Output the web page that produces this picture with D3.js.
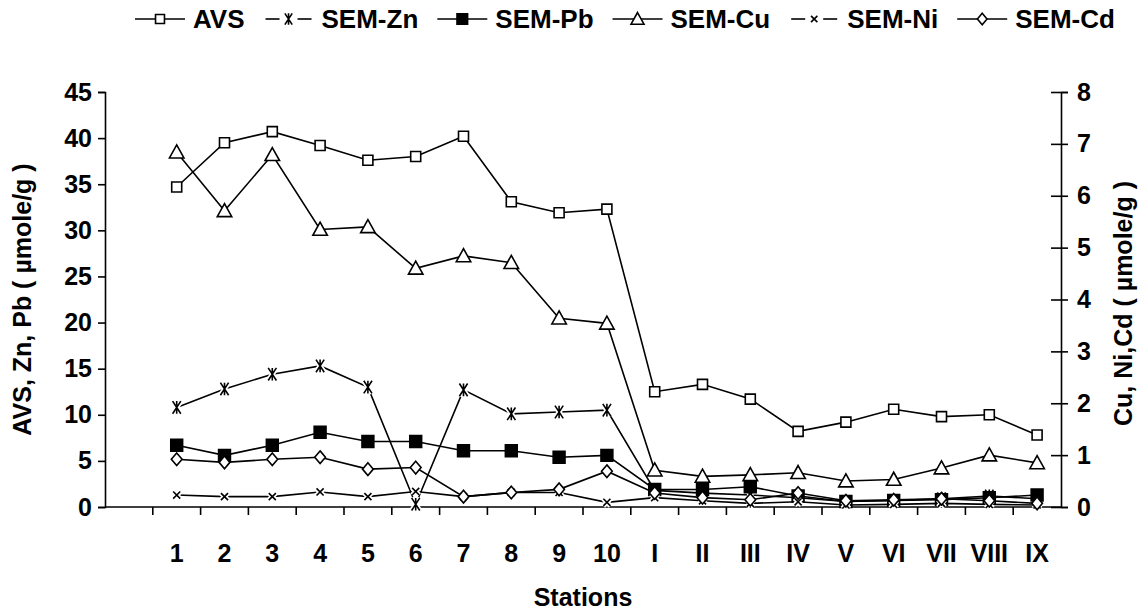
<!DOCTYPE html>
<html>
<head>
<meta charset="utf-8">
<script src="https://cdn.jsdelivr.net/npm/d3@7"></script>
<style>
  body { margin: 0; background: #fff; }
  text { font-family: "Liberation Sans", Arial, sans-serif; font-weight: bold; fill: #000; }
</style>
</head>
<body>
<div id="chart"></div>
<script>
// stations (first band is left empty, as in the original)
var stations = ["1", "2", "3", "4", "5", "6", "7", "8", "9", "10",
                "I", "II", "III", "IV", "V", "VI", "VII", "VIII", "IX"];

// left axis series (µmole/g)
var avs   = [34.7, 39.5, 40.7, 39.2, 37.6, 38.0, 40.2, 33.1, 31.9, 32.3,
             12.5, 13.3, 11.7, 8.2, 9.2, 10.6, 9.8, 10.0, 7.8];
var semZn = [10.8, 12.8, 14.4, 15.3, 13.0, 0.3, 12.7, 10.1, 10.3, 10.5,
             1.8, 1.5, 1.3, 1.0, 0.6, 0.7, 0.9, 1.2, 0.9];
var semPb = [6.7, 5.6, 6.7, 8.1, 7.1, 7.1, 6.1, 6.1, 5.4, 5.6,
             1.9, 1.9, 2.2, 1.2, 0.6, 0.7, 0.8, 1.0, 1.3];

// right axis series (µmole/g)
var semCu = [6.84, 5.71, 6.79, 5.35, 5.40, 4.60, 4.84, 4.71, 3.64, 3.54,
             0.71, 0.59, 0.62, 0.66, 0.50, 0.53, 0.75, 1.00, 0.85];
var semNi = [0.23, 0.20, 0.20, 0.29, 0.20, 0.30, 0.20, 0.28, 0.28, 0.09,
             0.18, 0.12, 0.07, 0.10, 0.04, 0.05, 0.07, 0.05, 0.04];
var semCd = [0.92, 0.86, 0.92, 0.96, 0.73, 0.76, 0.20, 0.28, 0.34, 0.69,
             0.27, 0.18, 0.14, 0.27, 0.12, 0.14, 0.16, 0.12, 0.07];

var leftTicks = [0, 5, 10, 15, 20, 25, 30, 35, 40, 45];
var rightTicks = [0, 1, 2, 3, 4, 5, 6, 7, 8];

var width = 1148, height = 612;
var margin = { top: 92, right: 87, bottom: 105, left: 105 };

var svg = d3.select("#chart").append("svg")
    .attr("width", width)
    .attr("height", height);

var x = d3.scaleBand()
    .domain([""].concat(stations))
    .range([margin.left, width - margin.right])
    .padding(0);
var yL = d3.scaleLinear().domain([0, 45]).range([height - margin.bottom, margin.top]);
var yR = d3.scaleLinear().domain([0, 8]).range([height - margin.bottom, margin.top]);
var cx = d => x(d) + x.bandwidth() / 2;

// marker shapes
var asterisk = {
    draw: function (ctx, size) {
        var r = Math.sqrt(size) / 2;
        ctx.moveTo(0, -r); ctx.lineTo(0, r);
        ctx.moveTo(-0.65 * r, -r); ctx.lineTo(0.65 * r, r);
        ctx.moveTo(0.65 * r, -r); ctx.lineTo(-0.65 * r, r);
    }
};
var cross = {
    draw: function (ctx, size) {
        var r = Math.sqrt(size) / 2;
        ctx.moveTo(-r, -r); ctx.lineTo(r, r);
        ctx.moveTo(r, -r); ctx.lineTo(-r, r);
    }
};
var diamond = {
    draw: function (ctx, size) {
        var r = Math.sqrt(size) / 2;
        ctx.moveTo(0, -r); ctx.lineTo(r * 0.85, 0); ctx.lineTo(0, r); ctx.lineTo(-r * 0.85, 0); ctx.closePath();
    }
};
var triangle = {
    draw: function (ctx, size) {
        var r = Math.sqrt(size) / 2;
        ctx.moveTo(0, -r); ctx.lineTo(r, r * 0.8); ctx.lineTo(-r, r * 0.8); ctx.closePath();
    }
};

var series = [
    { name: "AVS",    values: avs,   y: yL, type: d3.symbolSquare, size: 100, fill: "#fff", open: true },
    { name: "SEM-Zn", values: semZn, y: yL, type: asterisk,        size: 160, fill: "none", open: false },
    { name: "SEM-Pb", values: semPb, y: yL, type: d3.symbolSquare, size: 140, fill: "#000", open: true },
    { name: "SEM-Cu", values: semCu, y: yR, type: triangle,        size: 210, fill: "#fff", open: true },
    { name: "SEM-Ni", values: semNi, y: yR, type: cross,           size: 50,  fill: "none", open: false },
    { name: "SEM-Cd", values: semCd, y: yR, type: diamond,         size: 160, fill: "#fff", open: true }
];

// axes
var axisG = svg.append("g");
axisG.append("g")
    .attr("transform", `translate(${margin.left},0)`)
    .call(d3.axisLeft(yL).tickValues(leftTicks).tickSize(7).tickPadding(6))
    .call(g => g.selectAll(".tick text").style("font-size", "25px"))
    .call(g => g.selectAll("path, line").attr("stroke", "#000").attr("stroke-width", 1.6));

axisG.append("g")
    .attr("transform", `translate(${width - margin.right},0)`)
    .call(d3.axisRight(yR).tickValues(rightTicks).tickSize(7).tickPadding(9))
    .call(g => g.selectAll(".tick text").style("font-size", "25px"))
    .call(g => g.selectAll(".tick line").attr("x1", -10))
    .call(g => g.selectAll("path, line").attr("stroke", "#000").attr("stroke-width", 1.6));

var xAxisG = axisG.append("g")
    .attr("transform", `translate(0,${height - margin.bottom})`);
xAxisG.append("line")
    .attr("x1", margin.left).attr("x2", width - margin.right)
    .attr("stroke", "#000").attr("stroke-width", 1.6);
xAxisG.selectAll("line.tk")
    .data(stations)
    .join("line")
    .attr("class", "tk")
    .attr("x1", d => x(d)).attr("x2", d => x(d))
    .attr("y1", 0).attr("y2", 8)
    .attr("stroke", "#000").attr("stroke-width", 1.6);
xAxisG.selectAll("text")
    .data(stations)
    .join("text")
    .attr("x", d => cx(d))
    .attr("y", 55)
    .attr("text-anchor", "middle")
    .style("font-size", "25px")
    .text(d => d);

// axis titles
var midY = (margin.top + height - margin.bottom) / 2;
svg.append("text")
    .attr("transform", `translate(31,${midY}) rotate(-90)`)
    .attr("text-anchor", "middle")
    .style("font-size", "25px")
    .text("AVS, Zn, Pb ( µmole/g )");
svg.append("text")
    .attr("transform", `translate(1132,${midY + 4}) rotate(-90)`)
    .attr("text-anchor", "middle")
    .style("font-size", "25px")
    .text("Cu, Ni,Cd ( µmole/g )");
svg.append("text")
    .attr("x", (margin.left + width - margin.right) / 2)
    .attr("y", 606)
    .attr("text-anchor", "middle")
    .style("font-size", "25px")
    .text("Stations");

// lines and markers
var plot = svg.append("g");
series.forEach(function (s) {
    var pts = stations.map((st, i) => [cx(st), s.y(s.values[i])]);
    plot.append("path")
        .datum(pts)
        .attr("fill", "none")
        .attr("stroke", "#000")
        .attr("stroke-width", 1.6)
        .attr("d", d3.line());
    var sym = d3.symbol().type(s.type).size(s.size);
    var mg = plot.append("g");
    if (!s.open) {
        mg.selectAll("path.halo")
            .data(pts)
            .join("path")
            .attr("class", "halo")
            .attr("transform", d => `translate(${d[0]},${d[1]})`)
            .attr("d", sym)
            .attr("fill", "none")
            .attr("stroke", "#fff")
            .attr("stroke-width", 5);
    }
    mg.selectAll("path.mk")
        .data(pts)
        .join("path")
        .attr("class", "mk")
        .attr("transform", d => `translate(${d[0]},${d[1]})`)
        .attr("d", sym)
        .attr("fill", s.fill)
        .attr("stroke", "#000")
        .attr("stroke-width", 1.6);
});

// legend
var legend = svg.append("g").attr("transform", "translate(0,19)");
var lx = 135;
series.forEach(function (s) {
    var g = legend.append("g").attr("transform", `translate(${lx},0)`);
    if (!s.open) {
        g.append("line").attr("x1", 2).attr("x2", 16).attr("stroke", "#000").attr("stroke-width", 1.6);
        g.append("line").attr("x1", 34).attr("x2", 48).attr("stroke", "#000").attr("stroke-width", 1.6);
    } else {
        g.append("line").attr("x1", 0).attr("x2", 50).attr("stroke", "#000").attr("stroke-width", 1.6);
    }
    g.append("path")
        .attr("transform", "translate(25,0)")
        .attr("d", d3.symbol().type(s.type).size(s.size * 0.8))
        .attr("fill", s.fill)
        .attr("stroke", "#000")
        .attr("stroke-width", 1.6);
    var t = g.append("text")
        .attr("x", 58)
        .attr("y", 9)
        .style("font-size", "26px")
        .text(s.name);
    lx += 58 + t.node().getComputedTextLength() + 19;
});
</script>
</body>
</html>
